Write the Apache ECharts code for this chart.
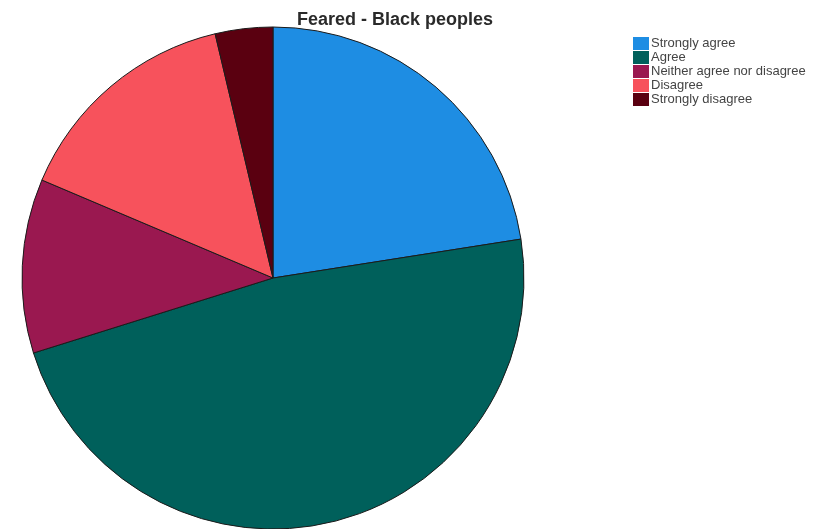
<!DOCTYPE html>
<html><head><meta charset="utf-8">
<script src="https://cdn.jsdelivr.net/npm/echarts@6/dist/echarts.min.js"></script>
<style>html,body{margin:0;padding:0;background:#fff}#c{width:815px;height:529px}</style>
</head><body><div id="c"></div>
<script>
const categories = ['Strongly agree','Agree','Neither agree nor disagree','Disagree','Strongly disagree'];
const values = [22.5, 47.6, 11.2, 14.9, 3.7];
const colors = ['#1e8de3','#00605b','#9a1850','#f7525c','#5a0010'];

const chart = echarts.init(document.getElementById('c'));
chart.setOption({
  animation: false,
  title: {
    text: 'Feared - Black peoples',
    left: 390, top: 6, textAlign: 'center',
    textStyle: {fontFamily: 'Liberation Sans, Arial', fontSize: 18, fontWeight: 'bold', color: '#2a2a2a'}
  },
  legend: {
    orient: 'vertical', left: 628, top: 32,
    itemWidth: 16, itemHeight: 13, itemGap: 1,
    icon: 'rect',
    itemStyle: {borderWidth: 0},
    textStyle: {fontFamily: 'Liberation Sans, Arial', fontSize: 13, color: '#444', padding: [0,0,0,-3]},
    data: categories
  },
  series: [{
    type: 'pie',
    center: [273, 278],
    radius: 251,
    startAngle: 90,
    clockwise: true,
    label: {show: false},
    labelLine: {show: false},
    itemStyle: {borderColor: '#1a1a1a', borderWidth: 1},
    data: categories.map((c, i) => ({name: c, value: values[i], itemStyle: {color: colors[i]}}))
  }]
});
</script></body></html>
